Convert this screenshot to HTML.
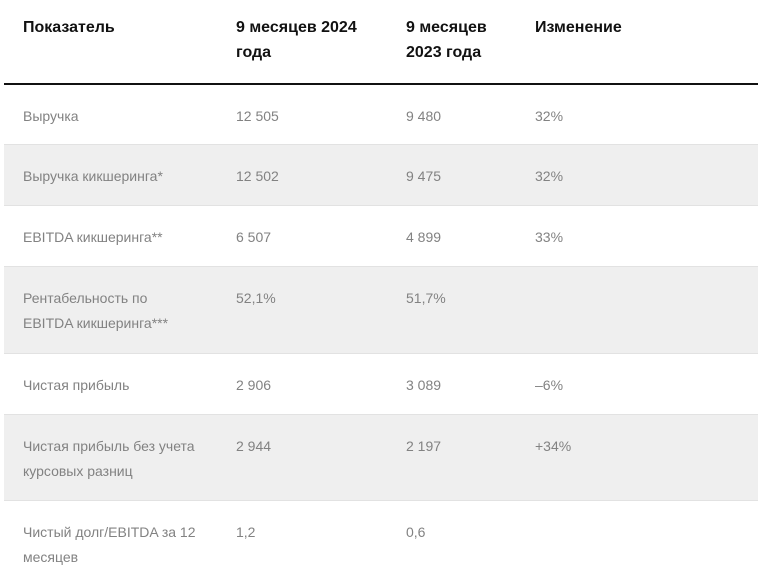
<!DOCTYPE html>
<html>
<head>
<meta charset="utf-8">
<style>
  html, body { margin:0; padding:0; }
  body { width:758px; height:586px; position:relative; overflow:hidden; background:#fff;
         font-family:"Liberation Sans", Arial, sans-serif; }
  .hdr { position:absolute; top:14.5px; font-size:16px; font-weight:bold; color:#111; line-height:25px; white-space:nowrap; }
  .rule { position:absolute; left:4px; right:0; top:83px; height:2px; background:#111; }
  .row { position:absolute; left:4px; right:0; border-bottom:1px solid #e2e2e2; box-sizing:border-box; }
  .g { background:#efefef; }
  .t { position:absolute; font-size:14px; line-height:25px; color:#828282; white-space:nowrap; }
  .c1 { left:23px; } .c2 { left:236px; } .c3 { left:406px; } .c4 { left:535px; }
</style>
</head>
<body>
  <div class="hdr c1">Показатель</div>
  <div class="hdr c2">9 месяцев 2024<br>года</div>
  <div class="hdr c3">9 месяцев<br>2023 года</div>
  <div class="hdr c4">Изменение</div>
  <div class="rule"></div>

  <div class="row" style="top:85px;height:60px;"></div>
  <div class="row g" style="top:145px;height:61px;"></div>
  <div class="row" style="top:206px;height:61px;"></div>
  <div class="row g" style="top:267px;height:87px;"></div>
  <div class="row" style="top:354px;height:61px;"></div>
  <div class="row g" style="top:415px;height:86px;"></div>
  <div class="row" style="top:501px;height:85px;border-bottom:none;"></div>

  <div class="t c1" style="top:104px;">Выручка</div>
  <div class="t c2" style="top:104px;">12 505</div>
  <div class="t c3" style="top:104px;">9 480</div>
  <div class="t c4" style="top:104px;">32%</div>

  <div class="t c1" style="top:164px;">Выручка кикшеринга*</div>
  <div class="t c2" style="top:164px;">12 502</div>
  <div class="t c3" style="top:164px;">9 475</div>
  <div class="t c4" style="top:164px;">32%</div>

  <div class="t c1" style="top:225px;">EBITDA кикшеринга**</div>
  <div class="t c2" style="top:225px;">6 507</div>
  <div class="t c3" style="top:225px;">4 899</div>
  <div class="t c4" style="top:225px;">33%</div>

  <div class="t c1" style="top:286px;">Рентабельность по<br>EBITDA кикшеринга***</div>
  <div class="t c2" style="top:286px;">52,1%</div>
  <div class="t c3" style="top:286px;">51,7%</div>

  <div class="t c1" style="top:373px;">Чистая прибыль</div>
  <div class="t c2" style="top:373px;">2 906</div>
  <div class="t c3" style="top:373px;">3 089</div>
  <div class="t c4" style="top:373px;">–6%</div>

  <div class="t c1" style="top:434px;">Чистая прибыль без учета<br>курсовых разниц</div>
  <div class="t c2" style="top:434px;">2 944</div>
  <div class="t c3" style="top:434px;">2 197</div>
  <div class="t c4" style="top:434px;">+34%</div>

  <div class="t c1" style="top:520px;">Чистый долг/EBITDA за 12<br>месяцев</div>
  <div class="t c2" style="top:520px;">1,2</div>
  <div class="t c3" style="top:520px;">0,6</div>
</body>
</html>
